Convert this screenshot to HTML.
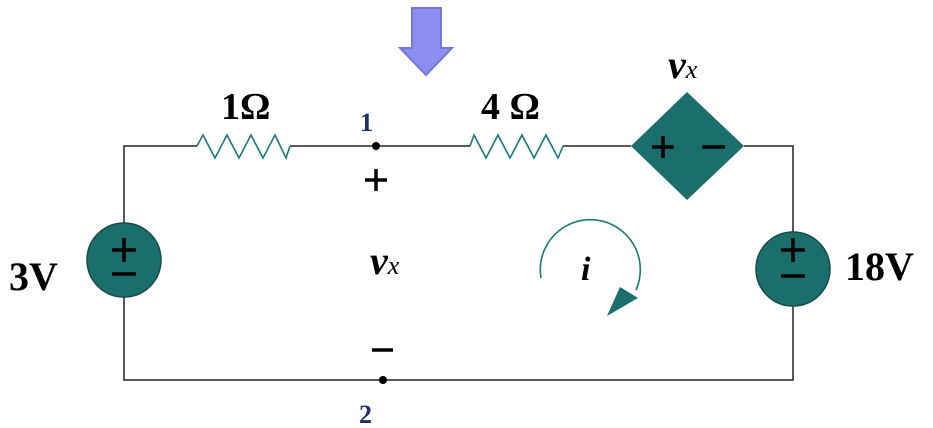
<!DOCTYPE html>
<html><head><style>
html,body{margin:0;padding:0;background:#fff;}
svg{display:block}
</style></head><body>
<svg width="933" height="428" viewBox="0 0 933 428" xmlns="http://www.w3.org/2000/svg">
<g stroke="#222" stroke-width="1.5" fill="none">
<polyline points="197,146 124,146 124,380 793,380 793,146 744,146"/>
<line x1="290" y1="146" x2="470" y2="146"/>
<line x1="563" y1="146" x2="631" y2="146"/>
</g>
<g stroke="#1a7a78" stroke-width="1.6" fill="none">
<polyline points="197,146 203,135 215,158 227,135 239,158 251,135 263,158 275,135 286,158 290,146"/>
<polyline points="470,146 474,135 486,158 498,135 510,158 522,135 534,158 546,135 558,158 563,146"/>
<path d="M541,278 A50,50 0 1 1 636,290"/>
</g>
<polygon points="620,287 638,298 607,316" fill="#1a6f6c"/>
<g fill="#1a6f6c" stroke="#184b4a" stroke-width="1.5">
<circle cx="124" cy="260" r="37"/>
<circle cx="793" cy="269" r="37"/>
<polygon points="687,92 744,146 687,200 631,146" stroke="none"/>
</g>
<g stroke="#000" stroke-width="3.5">
<line x1="112" y1="250" x2="136" y2="250"/><line x1="124" y1="238" x2="124" y2="262"/>
<line x1="112" y1="274" x2="136" y2="274"/>
<line x1="781" y1="250" x2="805" y2="250"/><line x1="793" y1="238" x2="793" y2="262"/>
<line x1="781" y1="276" x2="805" y2="276"/>
<line x1="652" y1="147" x2="674" y2="147"/><line x1="663" y1="136" x2="663" y2="158"/>
<line x1="702" y1="147" x2="725" y2="147"/>
<line x1="365" y1="180" x2="387" y2="180"/><line x1="376" y1="169" x2="376" y2="191"/>
<line x1="372" y1="350" x2="393" y2="350"/>
</g>
<circle cx="376" cy="146" r="4" fill="#000"/>
<circle cx="383" cy="380" r="4" fill="#000"/>
<polygon points="412,8 441,8 441,48 452,48 426,75 400,48 412,48" fill="#8c8ff0" stroke="#7477d8" stroke-width="2"/>
<g font-family="Liberation Serif, serif" font-weight="bold" fill="#000">
<text x="221" y="119" font-size="38">1Ω</text>
<text x="481" y="119" font-size="38">4 Ω</text>
<text x="9" y="290" font-size="40">3V</text>
<text x="845" y="280" font-size="40">18V</text>
<text x="668" y="78" font-size="40" font-style="italic">v<tspan font-size="26" font-weight="normal">x</tspan></text>
<text x="370" y="274" font-size="40" font-style="italic">v<tspan font-size="26" font-weight="normal">x</tspan></text>
<text x="581" y="280" font-size="34" font-style="italic">i</text>
<text x="360" y="131" font-size="26" fill="#1c2f6b">1</text>
<text x="359" y="423" font-size="26" fill="#1c2f6b">2</text>
</g>
</svg>
</body></html>
